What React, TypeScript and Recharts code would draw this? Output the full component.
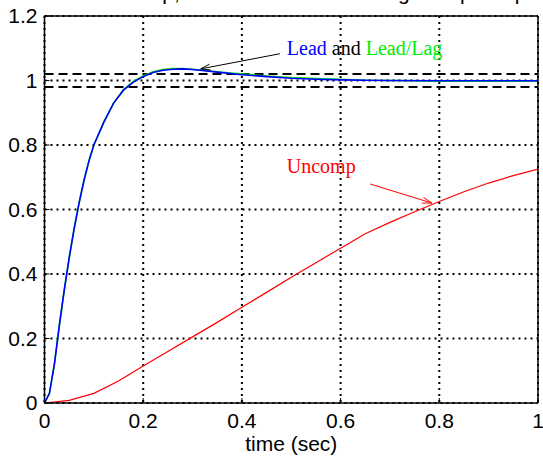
import React from 'react';
import { LineChart, Line, XAxis, YAxis, CartesianGrid, ReferenceLine, ReferenceDot } from 'recharts';

const leadTime = [0, 0.01, 0.02, 0.03, 0.04, 0.05, 0.06, 0.07, 0.08, 0.09, 0.1, 0.12, 0.14, 0.16, 0.18, 0.2, 0.22, 0.24, 0.26, 0.28, 0.3, 0.32, 0.35, 0.4, 0.45, 0.5, 0.55, 0.6, 0.65, 0.7, 0.8, 0.9, 1.0];
const leadValues = [0, 0.03, 0.12, 0.24, 0.35, 0.45, 0.54, 0.62, 0.69, 0.75, 0.8, 0.87, 0.93, 0.97, 0.995, 1.012, 1.025, 1.032, 1.035, 1.036, 1.034, 1.031, 1.026, 1.018, 1.012, 1.007, 1.004, 1.002, 1.001, 1.0, 0.999, 0.999, 0.999];
const leadLagValues = [0, 0.03, 0.12, 0.24, 0.35, 0.45, 0.54, 0.62, 0.69, 0.75, 0.8, 0.87, 0.93, 0.971, 0.997, 1.014, 1.027, 1.034, 1.037, 1.037, 1.035, 1.032, 1.027, 1.02, 1.014, 1.009, 1.006, 1.004, 1.001, 1.0, 0.998, 0.998, 0.998];

const uncompTime = [0, 0.05, 0.1, 0.15, 0.2, 0.25, 0.3, 0.35, 0.4, 0.45, 0.5, 0.55, 0.6, 0.65, 0.7, 0.75, 0.8, 0.85, 0.9, 0.95, 1.0];
const uncompValues = [0, 0.008, 0.03, 0.068, 0.115, 0.16, 0.205, 0.25, 0.297, 0.343, 0.39, 0.435, 0.48, 0.525, 0.56, 0.593, 0.625, 0.655, 0.682, 0.705, 0.725];

const xTicks = [0, 0.2, 0.4, 0.6, 0.8, 1];
const yTicks = [0, 0.2, 0.4, 0.6, 0.8, 1, 1.2];
const bandLevels = [0.98, 1.02];

const titleText = 'Closed Loop, with Lead and Lead/Lag Comp Resp';
const xLabelText = 'time (sec)';
const leadLabel = { x: 0.491, y: 1.08 };
const uncompLabel = { x: 0.491, y: 0.7136 };
const leadArrow = [{ x: 0.477, y: 1.083 }, { x: 0.3165, y: 1.036 }];
const uncompArrow = [{ x: 0.66, y: 0.679 }, { x: 0.785, y: 0.62 }];

const leadData = leadTime.map((t, i) => ({ t, v: leadValues[i] }));
const leadLagData = leadTime.map((t, i) => ({ t, v: leadLagValues[i] }));
const uncompData = uncompTime.map((t, i) => ({ t, v: uncompValues[i] }));

const sans = '"Liberation Sans", Arial, Helvetica, sans-serif';
const serif = '"Liberation Serif", "Times New Roman", serif';
const fmt = (v: number) => String(Number(v.toFixed(1)));
const blank = () => '';

const makeArrow = (color: string) => (props: any) => {
  const { x1, y1, x2, y2 } = props;
  const ang = Math.atan2(y2 - y1, x2 - x1);
  const L = 10;
  const a = 0.3;
  const ax1 = x2 - L * Math.cos(ang - a);
  const ay1 = y2 - L * Math.sin(ang - a);
  const ax2 = x2 - L * Math.cos(ang + a);
  const ay2 = y2 - L * Math.sin(ang + a);
  return (
    <g>
      <line x1={x1} y1={y1} x2={x2} y2={y2} stroke={color} strokeWidth={1} />
      <polyline points={`${ax1},${ay1} ${x2},${y2} ${ax2},${ay2}`} fill="none" stroke={color} strokeWidth={1} />
    </g>
  );
};

const LeadText = (props: any) => (
  <text x={props.cx} y={props.cy} fontFamily={serif} fontSize={20} textAnchor="start">
    <tspan fill="#0000ff">Lead</tspan>
    <tspan fill="#000000"> and </tspan>
    <tspan fill="#00ee00">Lead/Lag</tspan>
  </text>
);

const UncompText = (props: any) => (
  <text x={props.cx} y={props.cy} fontFamily={serif} fontSize={20} textAnchor="start" fill="#ff0000">
    Uncomp
  </text>
);

const TitleContent = (props: any) => {
  const vb = props.viewBox || { x: 0, y: 0, width: 0, height: 0 };
  return (
    <text x={vb.x + vb.width / 2} y={0} textAnchor="middle" fontFamily={sans} fontSize={21} fill="#000">
      {titleText}
    </text>
  );
};

const XLabelContent = (props: any) => {
  const vb = props.viewBox || { x: 0, y: 0, width: 0, height: 0 };
  return (
    <text x={vb.x + vb.width / 2} y={451} textAnchor="middle" fontFamily={sans} fontSize={21} fill="#000">
      {xLabelText}
    </text>
  );
};

const XTick = (props: any) => {
  const { x, payload } = props;
  return (
    <text x={x} y={428} textAnchor="middle" fontFamily={sans} fontSize={21} fill="#000">
      {fmt(payload.value)}
    </text>
  );
};

const tickStyle = { fontFamily: sans, fontSize: 21, fill: '#000' };

export default function App() {
  return (
    <div style={{ position: 'absolute', left: 0, top: 0 }}>
      <LineChart width={543} height={457} margin={{ top: 0, right: 0, bottom: 0, left: 0 }}>
        <CartesianGrid stroke="#000" strokeDasharray="2 4" strokeWidth={2} />
        <XAxis
          xAxisId={0}
          dataKey="t"
          type="number"
          domain={[0, 1]}
          ticks={xTicks}
          height={54}
          tickSize={-5}
          tickMargin={18}
          tick={XTick}
          axisLine={{ stroke: '#000', strokeWidth: 1.5 }}
          tickLine={{ stroke: '#000' }}
          allowDataOverflow
          label={{ content: XLabelContent }}
        />
        <XAxis
          xAxisId="top"
          orientation="top"
          type="number"
          domain={[0, 1]}
          ticks={xTicks}
          tickFormatter={blank}
          height={16}
          tickSize={-5}
          tick={tickStyle}
          axisLine={{ stroke: '#000', strokeWidth: 1.5 }}
          tickLine={{ stroke: '#000' }}
          label={{ content: TitleContent }}
        />
        <YAxis
          yAxisId={0}
          type="number"
          domain={[0, 1.2]}
          ticks={yTicks}
          tickFormatter={fmt}
          width={44.5}
          tickSize={-5}
          tickMargin={12}
          tick={tickStyle}
          axisLine={{ stroke: '#000', strokeWidth: 1.5 }}
          tickLine={{ stroke: '#000' }}
          allowDataOverflow
        />
        <YAxis
          yAxisId="right"
          orientation="right"
          type="number"
          domain={[0, 1.2]}
          ticks={yTicks}
          tickFormatter={blank}
          width={5}
          tickSize={-5}
          tick={tickStyle}
          axisLine={{ stroke: '#000', strokeWidth: 1.5 }}
          tickLine={{ stroke: '#000' }}
        />
        {bandLevels.map((b) => (
          <ReferenceLine key={b} y={b} stroke="#000" strokeWidth={2} strokeDasharray="9 5" />
        ))}
        <Line data={leadLagData} dataKey="v" stroke="#00ee00" strokeWidth={1.6} dot={false} isAnimationActive={false} type="linear" />
        <Line data={leadData} dataKey="v" stroke="#0000ff" strokeWidth={1.6} dot={false} isAnimationActive={false} type="linear" />
        <Line data={uncompData} dataKey="v" stroke="#ff0000" strokeWidth={1.2} dot={false} isAnimationActive={false} type="linear" />
        <ReferenceLine segment={leadArrow} shape={makeArrow('#000')} />
        <ReferenceLine segment={uncompArrow} shape={makeArrow('#ff0000')} />
        <ReferenceDot x={leadLabel.x} y={leadLabel.y} r={0} shape={LeadText} />
        <ReferenceDot x={uncompLabel.x} y={uncompLabel.y} r={0} shape={UncompText} />
      </LineChart>
    </div>
  );
}
